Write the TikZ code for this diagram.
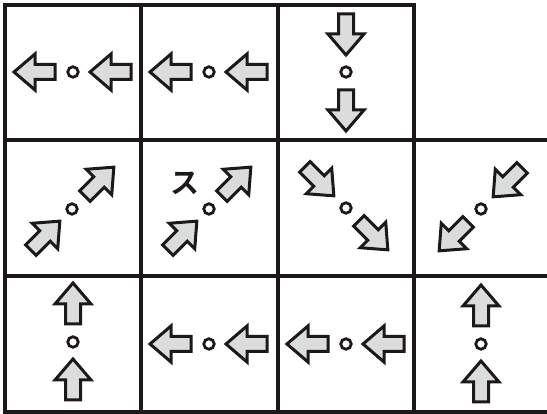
\documentclass[tikz,border=0pt]{standalone}
\usepackage{fontspec}
\newfontfamily\cjk{Noto Sans CJK JP Bold}
\usepackage{tikz}
\usetikzlibrary{positioning}

\definecolor{arrowgray}{RGB}{218,221,220}
\definecolor{inkblack}{RGB}{30,25,25}

\tikzset{
  blockarrow/.pic={
    \draw[fill=arrowgray, draw=inkblack, line width=3pt, miter limit=10]
      (21,0) -- (0,18) -- (0,7.5) -- (-20,7.5) -- (-20,-7.5) -- (0,-7.5) -- (0,-18) -- cycle;
  }
}

\begin{document}
\begin{tikzpicture}[
  x=1pt, y=1pt,
  grid/.style={draw=inkblack, line width=3.6pt, line cap=rect},
  dot/.style={circle, draw=inkblack, line width=2.8pt, minimum size=10.5pt, inner sep=0pt, fill=white},
  kana/.style={font=\cjk\fontsize{29}{29}\selectfont, text=inkblack, inner sep=0pt}
]
  \useasboundingbox (0,0) rectangle (547,414);

  % grid
  \draw[grid] (414,274) -- (414,409) -- (5,409) -- (5,2) -- (547,2);
  \draw[grid] (5,274) -- (547,274);
  \draw[grid] (5,138) -- (547,138);
  \draw[grid] (141,409) -- (141,2);
  \draw[grid] (278,409) -- (278,2);
  \draw[grid] (414,274) -- (414,2);

  % cells: name / centre / offset / direction
  \foreach \name/\cx/\cy/\dx/\dy/\ang in {
      a1/73/342/38/0/180, a2/209/342/38/0/180, a3/346/342/0/38/-90,
      b1/72/205/27/27/45, b2/209/205/27/27/45, b3/346/206/27/-27/-45, b4/481/205/-27/-27/225,
      c1/73/72/0/38/90, c2/209/70/38/0/180, c3/346/70/38/0/180, c4/481/70/0/38/90} {
    \node[dot] (\name) at (\cx,\cy) {};
    \pic[rotate=\ang] at (\cx+\dx,\cy+\dy) {blockarrow};
    \pic[rotate=\ang] at (\cx-\dx,\cy-\dy) {blockarrow};
  }

  \node[kana] (su) at (184.5,230.5) {ス};
\end{tikzpicture}
\end{document}
